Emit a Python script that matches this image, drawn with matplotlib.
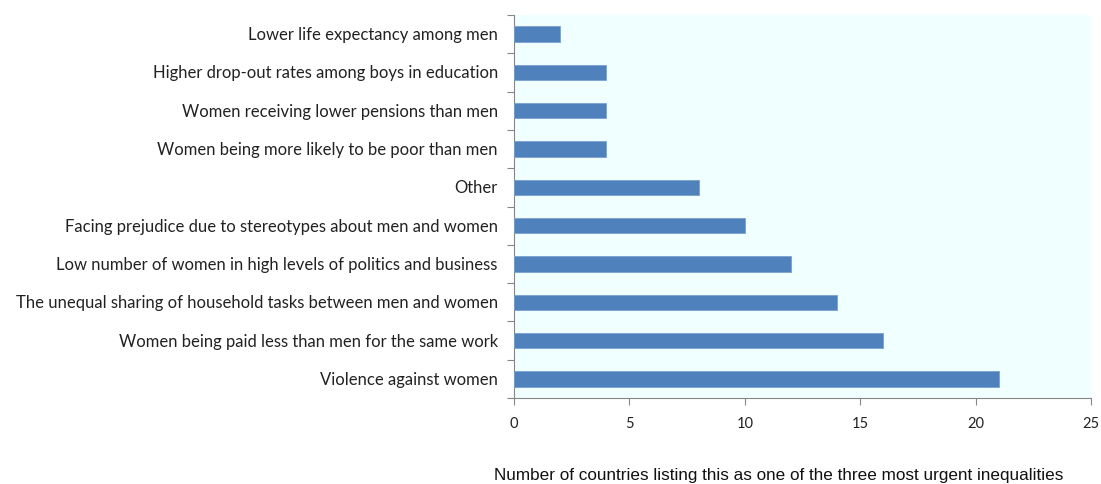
import matplotlib.pyplot as plt
import numpy as np

# survey answers, bottom to top
categories = [
    "Violence against women",
    "Women being paid less than men for the same work",
    "The unequal sharing of household tasks between men and women",
    "Low number of women in high levels of politics and business",
    "Facing prejudice due to stereotypes about men and women",
    "Other",
    "Women being more likely to be poor than men",
    "Women receiving lower pensions than men",
    "Higher drop-out rates among boys in education",
    "Lower life expectancy among men",
]
counts = [21, 16, 14, 12, 10, 8, 4, 4, 4, 2]
xticks = [0, 5, 10, 15, 20, 25]

fig = plt.figure(figsize=(11.01, 4.85), dpi=100)
ax = fig.add_axes([514 / 1101, 1 - 399 / 485, 577 / 1101, 383 / 485])
ax.set_facecolor("#F0FFFF")

y = np.arange(len(categories))
ax.barh(y, counts, height=0.4, color="#4F81BD", edgecolor="#7BA0CD", linewidth=0.6, zorder=3)

ax.set_xlim(0, 25)
ax.set_ylim(-0.5, len(categories) - 0.5)
ax.set_xticks(xticks)
ax.set_xticklabels([str(t) for t in xticks], fontsize=10.5, family="Lato", color="#222222")

# category names as text, tick marks sit between the bars
ax.set_yticks(np.arange(-0.5, len(categories), 1.0))
ax.set_yticklabels([])
for yi, name in zip(y, categories):
    ax.text(-0.7, yi, name, ha="right", va="center", fontsize=12, family="Lato", color="#222222")

for side in ("top", "right"):
    ax.spines[side].set_visible(False)
for side in ("left", "bottom"):
    ax.spines[side].set_color("#868686")
    ax.spines[side].set_linewidth(0.8)
ax.tick_params(axis="both", direction="out", length=5, width=0.8, color="#868686")
ax.tick_params(axis="x", pad=8)

fig.text(779 / 1101, 1 - 476 / 485,
         "Number of countries listing this as one of the three most urgent inequalities",
         ha="center", va="center", fontsize=12.3,
         family="Liberation Sans", color="#111111")

fig.savefig("out.png", dpi=100)
